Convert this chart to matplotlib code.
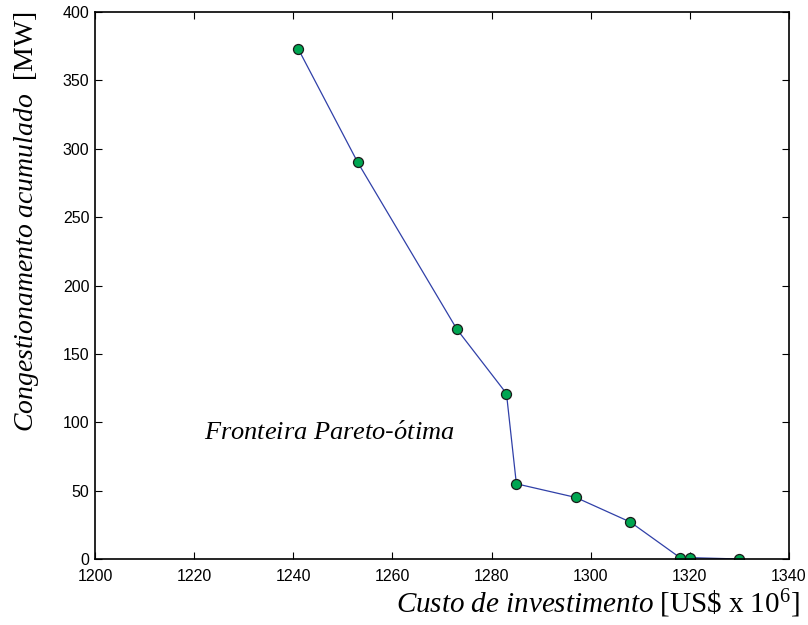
import numpy as np
import matplotlib
matplotlib.use('Agg')
import matplotlib.pyplot as plt

# fronteira pareto - custo x congestionamento
custo = [1241, 1253, 1273, 1283, 1285, 1297, 1308, 1318, 1320, 1330]
congest = [373, 290, 168, 121, 55, 45, 27, 1, 1, 0]

xticks = [1200, 1220, 1240, 1260, 1280, 1300, 1320, 1340]
yticks = [0, 50, 100, 150, 200, 250, 300, 350, 400]

plt.rcParams['font.family'] = 'Liberation Sans'
plt.rcParams['mathtext.fontset'] = 'custom'
plt.rcParams['mathtext.rm'] = 'Liberation Serif'
plt.rcParams['mathtext.it'] = 'Liberation Serif:italic'

fig = plt.figure(figsize=(8.08, 6.25), dpi=100)
ax = fig.add_axes([0.1176, 0.1056, 0.8589, 0.8752])

ax.plot(custo, congest, '-', color='#3040a8', lw=0.9,
        marker='o', ms=7.2, mfc='#00a651', mec='#1a1a1a', mew=0.9)

ax.set_xlim(1200, 1340)
ax.set_ylim(0, 400)
ax.set_xticks(xticks)
ax.set_yticks(yticks)
ax.tick_params(direction='in', length=5, width=0.8, labelsize=11.5,
               top=True, right=True)
ax.tick_params(axis='x', pad=7)
ax.tick_params(axis='y', pad=4)
for s in ax.spines.values():
    s.set_linewidth(1.2)

ax.text(1222, 92, r'$\mathit{Fronteira\ Pareto}$-$\mathit{\acute{o}tima}$',
        fontsize=19, va='center', ha='left')

fig.text(0.0334, 0.309,
         r'$\mathit{Congestionamento\ acumulado}\ \ \mathrm{[MW]}$',
         rotation=90, ha='center', va='bottom', fontsize=20)
fig.text(0.99, 0.008,
         r'$\mathit{Custo\ de\ investimento}\ \mathrm{[US\$\ x\ 10^6]}$',
         ha='right', va='bottom', fontsize=21)

fig.savefig('out.png', dpi=100)
